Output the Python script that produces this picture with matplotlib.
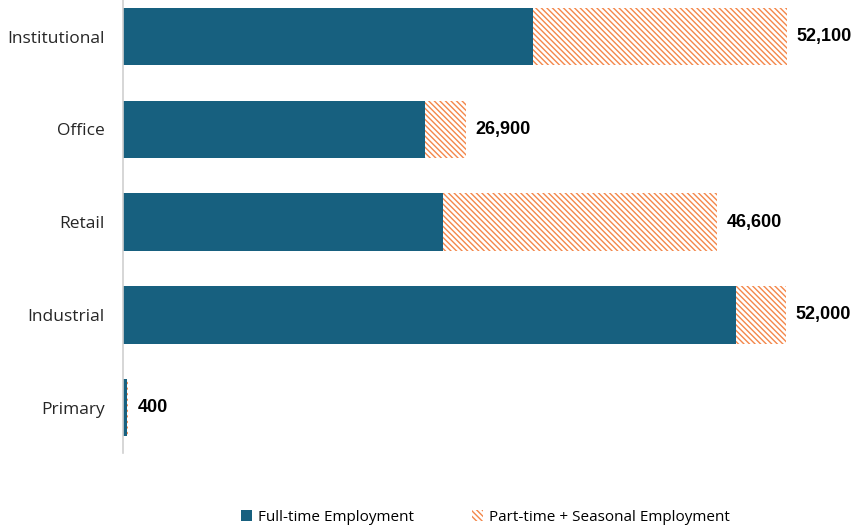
import matplotlib.pyplot as plt
from matplotlib.patches import Patch

categories = ['Institutional', 'Office', 'Retail', 'Industrial', 'Primary']
full_time = [32200, 23700, 25100, 48100, 300]
part_time = [19900, 3200, 21500, 3900, 100]
totals = [52100, 26900, 46600, 52000, 400]

blue = '#17607f'
orange = '#f4874a'
hatch = '\\' * 6

plt.rcParams['hatch.linewidth'] = 1.0

fig = plt.figure(figsize=(8.56, 5.29), dpi=100)
ax = fig.add_axes([123 / 856, 76 / 529, 733 / 856, 453 / 529])

y = list(range(len(categories)))
ax.barh(y, full_time, height=0.62, color=blue, linewidth=0)
ax.barh(y, part_time, left=full_time, height=0.62, color='white',
        edgecolor=orange, hatch=hatch, linewidth=0)

for yi, tot in zip(y, totals):
    ax.annotate(f'{tot:,}', xy=(tot, yi), xytext=(7, 0), textcoords='offset points',
                va='center', ha='left', fontsize=13, fontweight='bold',
                family='Liberation Sans')

ax.set_xlim(0, 57500)
ax.set_ylim(4.49, -0.394)
ax.set_yticks(y)
ax.set_yticklabels(categories, fontsize=12.5, family='Open Sans', color='#262626')
ax.tick_params(axis='y', length=0, pad=13)
ax.set_xticks([])
for s in ['top', 'right', 'bottom']:
    ax.spines[s].set_visible(False)
ax.spines['left'].set_color('#d0d0d0')
ax.spines['left'].set_linewidth(1.2)

handles = [Patch(facecolor=blue, label='Full-time Employment'),
           Patch(facecolor='white', edgecolor=orange, hatch=hatch, linewidth=0,
                 label='Part-time + Seasonal Employment')]
fig.legend(handles=handles, loc='lower center', bbox_to_anchor=(0.567, -0.018), ncol=2,
           frameon=False, handlelength=0.7, handleheight=0.7, handletextpad=0.4,
           columnspacing=3.8, prop={'family': 'Open Sans', 'size': 11})

fig.savefig('out.png', dpi=100)
